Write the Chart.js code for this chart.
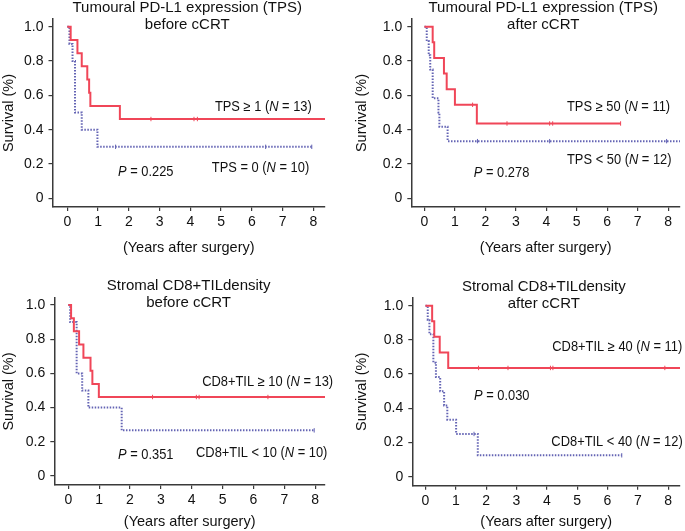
<!DOCTYPE html>
<html><head><meta charset="utf-8">
<script src="https://cdn.jsdelivr.net/npm/chart.js@4.4.1/dist/chart.umd.min.js"></script>
<style>
html,body{margin:0;padding:0;background:#fff;}
#wrap{position:relative;width:685px;height:531px;overflow:hidden;background:#fff;}
canvas{position:absolute;}
</style></head><body>
<div id="wrap">
<canvas id="c1" width="342" height="265" style="left:0px;top:0px;width:342px;height:265px"></canvas>
<canvas id="c2" width="343" height="265" style="left:342px;top:0px;width:343px;height:265px"></canvas>
<canvas id="c3" width="342" height="266" style="left:0px;top:265px;width:342px;height:266px"></canvas>
<canvas id="c4" width="343" height="266" style="left:342px;top:265px;width:343px;height:266px"></canvas>
</div>
<script>
// ---------- DATA ----------
const xTickValues = [0, 1, 2, 3, 4, 5, 6, 7, 8];
const yTickValues = [0, 0.2, 0.4, 0.6, 0.8, 1.0];
const yAxisTitle = 'Survival (%)';
const xAxisTitle = '(Years after surgery)';

// Panel 1: TPS before cCRT
const p1Title = ['Tumoural PD-L1 expression (TPS)', 'before cCRT'];
const p1HighTimes = [0, 0.11, 0.33, 0.47, 0.65, 0.71, 0.75, 1.71, 8.6];
const p1HighSurv  = [1, 0.923, 0.846, 0.769, 0.692, 0.615, 0.538, 0.462, 0.462];
const p1HighCensor = [2.72, 4.12, 4.23];
const p1LowTimes = [0, 0.07, 0.17, 0.25, 0.47, 0.98, 7.95];
const p1LowSurv  = [1, 0.9, 0.8, 0.5, 0.4, 0.3, 0.3];
const p1LowCensor = [1.57, 6.45, 7.95];
const p1HighLabel = ['TPS \u2265 1 (', 'N', ' = 13)'];
const p1LowLabel = ['TPS = 0 (', 'N', ' = 10)'];
const p1PLabel = ['', 'P', ' = 0.225'];

// Panel 2: TPS after cCRT
const p2Title = ['Tumoural PD-L1 expression (TPS)', 'after cCRT'];
const p2HighTimes = [0, 0.27, 0.32, 0.64, 0.73, 1.0, 1.72, 6.44];
const p2HighSurv  = [1, 0.909, 0.818, 0.727, 0.636, 0.545, 0.436, 0.436];
const p2HighCensor = [1.58, 2.71, 4.11, 4.21, 6.44];
const p2LowTimes = [0, 0.075, 0.14, 0.19, 0.27, 0.46, 0.49, 0.76, 8.6];
const p2LowSurv  = [1, 0.917, 0.833, 0.75, 0.583, 0.5, 0.417, 0.333, 0.333];
const p2LowCensor = [1.74, 4.11, 7.95];
const p2HighLabel = ['TPS \u2265 50 (', 'N', ' = 11)'];
const p2LowLabel = ['TPS < 50 (', 'N', ' = 12)'];
const p2PLabel = ['', 'P', ' = 0.278'];

// Panel 3: CD8+TIL before cCRT
const p3Title = ['Stromal CD8+TILdensity', 'before cCRT'];
const p3HighTimes = [0, 0.09, 0.18, 0.35, 0.49, 0.72, 0.78, 0.99, 8.6];
const p3HighSurv  = [1, 0.923, 0.846, 0.769, 0.692, 0.615, 0.538, 0.462, 0.462];
const p3HighCensor = [2.73, 4.15, 4.24, 6.47];
const p3LowTimes = [0, 0.06, 0.27, 0.45, 0.65, 1.73, 7.97];
const p3LowSurv  = [1, 0.9, 0.6, 0.5, 0.4, 0.267, 0.267];
const p3LowCensor = [7.97];
const p3HighLabel = ['CD8+TIL \u2265 10 (', 'N', ' = 13)'];
const p3LowLabel = ['CD8+TIL < 10 (', 'N', ' = 10)'];
const p3PLabel = ['', 'P', ' = 0.351'];

// Panel 4: CD8+TIL after cCRT
const p4Title = ['Stromal CD8+TILdensity', 'after cCRT'];
const p4HighTimes = [0, 0.22, 0.29, 0.47, 0.75, 8.6];
const p4HighSurv  = [1, 0.909, 0.818, 0.727, 0.636, 0.636];
const p4HighCensor = [1.75, 2.72, 4.12, 4.2, 7.89];
const p4LowTimes = [0, 0.075, 0.13, 0.26, 0.345, 0.485, 0.615, 0.72, 1.01, 1.725, 6.47];
const p4LowSurv  = [1, 0.917, 0.833, 0.667, 0.583, 0.5, 0.417, 0.333, 0.25, 0.125, 0.125];
const p4LowCensor = [1.6, 6.47];
const p4HighLabel = ['CD8+TIL \u2265 40 (', 'N', ' = 11)'];
const p4LowLabel = ['CD8+TIL < 40 (', 'N', ' = 12)'];
const p4PLabel = ['', 'P', ' = 0.030'];

// ---------- STYLE ----------
const FONT = "'Liberation Sans', Arial, Helvetica, sans-serif";
const RED = '#f04658';
const BLUE = '#6464b4';
const AXIS = '#3a3a3a';

function survAt(times, surv, t) {
  let s = surv[0];
  for (let i = 0; i < times.length; i++) { if (times[i] <= t) s = surv[i]; }
  return s;
}
function pts(times, surv) { return times.map((t, i) => ({x: t, y: surv[i]})); }
function censorPts(times, surv, cens) { return cens.map(t => ({x: t, y: survAt(times, surv, t)})); }

const textPlugin = {
  id: 'panelText',
  afterDraw(chart, args, o) {
    const ctx = chart.ctx, xs = chart.scales.x, ys = chart.scales.y;
    ctx.save();
    ctx.fillStyle = '#111';
    ctx.textBaseline = 'middle';
    // titles
    ctx.textAlign = 'center';
    ctx.font = '15px ' + FONT;
    const tx = xs.getPixelForValue(o.titleX);
    const ty = ys.getPixelForValue(1);
    o.title.forEach((line, i) => ctx.fillText(line, tx, ty + o.titleOffsets[i]));
    // labels (slightly condensed, as in the original figure)
    ctx.textAlign = 'left';
    const sx = 0.92;
    o.labels.forEach(lab => {
      const x0 = xs.getPixelForValue(lab.x);
      const y = ys.getPixelForValue(lab.y);
      ctx.save();
      ctx.translate(x0, y);
      ctx.scale(sx, 1);
      let x = 0;
      lab.parts.forEach((p, i) => {
        ctx.font = (i === 1 ? 'italic ' : '') + '14px ' + FONT;
        ctx.fillText(p, x, 0);
        x += ctx.measureText(p).width;
      });
      ctx.restore();
    });
    ctx.restore();
  }
};

function makePanel(id, cfg) {
  const scaleBase = {
    type: 'linear',
    grid: {display: true, drawOnChartArea: false, drawTicks: true, tickLength: 4, color: AXIS, lineWidth: 1.2},
    border: {display: true, color: AXIS, width: 1.5},
  };
  new Chart(document.getElementById(id), {
    type: 'line',
    data: {
      datasets: [
        {data: pts(cfg.hiT, cfg.hiS), borderColor: RED, borderWidth: 2, stepped: 'before', pointRadius: 0, fill: false},
        {data: pts(cfg.loT, cfg.loS), borderColor: BLUE, borderWidth: 2, borderDash: [1.5, 1.5], stepped: 'before', pointRadius: 0, fill: false},
        {type: 'scatter', data: censorPts(cfg.hiT, cfg.hiS, cfg.hiC), showLine: false, pointStyle: 'line', rotation: 90, pointRadius: 2.2, borderColor: RED, borderWidth: 1},
        {type: 'scatter', data: censorPts(cfg.loT, cfg.loS, cfg.loC), showLine: false, pointStyle: 'line', rotation: 90, pointRadius: 2.2, borderColor: BLUE, borderWidth: 1},
      ]
    },
    options: {
      responsive: false, animation: false, devicePixelRatio: 1,
      layout: {padding: {left: 0, top: cfg.padTop, right: cfg.padRight, bottom: 0}},
      plugins: {
        legend: {display: false}, tooltip: {enabled: false},
        panelText: {
          title: cfg.title, titleX: 3.9, titleOffsets: [-18.8, -1.8],
          labels: cfg.labels
        }
      },
      scales: {
        x: Object.assign({}, scaleBase, {
          position: 'bottom', min: cfg.xMin, max: cfg.xMax,
          afterBuildTicks: s => { s.ticks = xTickValues.map(v => ({value: v})); },
          afterFit: s => { s.height = cfg.xH; },
          ticks: {color: '#111', font: {family: FONT, size: 14}, padding: 3, maxRotation: 0, autoSkip: false,
                  callback: v => String(v)},
          title: {display: true, text: xAxisTitle, color: '#111', font: {family: FONT, size: 14.5}, padding: {top: 0, bottom: cfg.xTitlePad}}
        }),
        y: Object.assign({}, scaleBase, {
          position: 'left', min: cfg.yMin, max: cfg.yMax,
          afterBuildTicks: s => { s.ticks = yTickValues.map(v => ({value: v})); },
          afterFit: s => { s.width = cfg.yW; },
          ticks: {color: '#111', font: {family: FONT, size: 14}, padding: 5, autoSkip: false,
                  callback: v => (v === 0 ? '0' : v.toFixed(1))},
          title: {display: true, text: yAxisTitle, color: '#111', font: {family: FONT, size: 14.5}, padding: {top: cfg.yTitlePad, bottom: 0}}
        })
      }
    },
    plugins: [textPlugin]
  });
}

makePanel('c1', {
  title: p1Title, hiT: p1HighTimes, hiS: p1HighSurv, hiC: p1HighCensor, loT: p1LowTimes, loS: p1LowSurv, loC: p1LowCensor,
  labels: [{x: 4.8, y: 0.532, parts: p1HighLabel}, {x: 4.7, y: 0.177, parts: p1LowLabel}, {x: 1.65, y: 0.153, parts: p1PLabel}],
  padTop: 19, padRight: 17, yW: 52.5, xH: 58, xMin: -0.481, xMax: 8.38, yMin: -0.0507, yMax: 1.045, xTitlePad: 8.5, yTitlePad: 0.6
});
makePanel('c2', {
  title: p2Title, hiT: p2HighTimes, hiS: p2HighSurv, hiC: p2HighCensor, loT: p2LowTimes, loS: p2LowSurv, loC: p2LowCensor,
  labels: [{x: 4.68, y: 0.532, parts: p2HighLabel}, {x: 4.68, y: 0.223, parts: p2LowLabel}, {x: 1.62, y: 0.147, parts: p2PLabel}],
  padTop: 19, padRight: 0, yW: 69.3, xH: 58, xMin: -0.432, xMax: 8.39, yMin: -0.0507, yMax: 1.045, xTitlePad: 8.5, yTitlePad: 11.6
});
makePanel('c3', {
  title: p3Title, hiT: p3HighTimes, hiS: p3HighSurv, hiC: p3HighCensor, loT: p3LowTimes, loS: p3LowSurv, loC: p3LowCensor,
  labels: [{x: 4.34, y: 0.55, parts: p3HighLabel}, {x: 4.14, y: 0.134, parts: p3LowLabel}, {x: 1.61, y: 0.123, parts: p3PLabel}],
  padTop: 33, padRight: 17, yW: 54.3, xH: 46, xMin: -0.454, xMax: 8.32, yMin: -0.0526, yMax: 1.041, xTitlePad: 0, yTitlePad: 0
});
makePanel('c4', {
  title: p4Title, hiT: p4HighTimes, hiS: p4HighSurv, hiC: p4HighCensor, loT: p4LowTimes, loS: p4LowSurv, loC: p4LowCensor,
  labels: [{x: 4.18, y: 0.758, parts: p4HighLabel}, {x: 4.15, y: 0.203, parts: p4LowLabel}, {x: 1.6, y: 0.472, parts: p4PLabel}],
  padTop: 33, padRight: 0, yW: 70.3, xH: 45.3, xMin: -0.434, xMax: 8.39, yMin: -0.0526, yMax: 1.045, xTitlePad: 0, yTitlePad: 11.6
});
</script>
</body></html>
